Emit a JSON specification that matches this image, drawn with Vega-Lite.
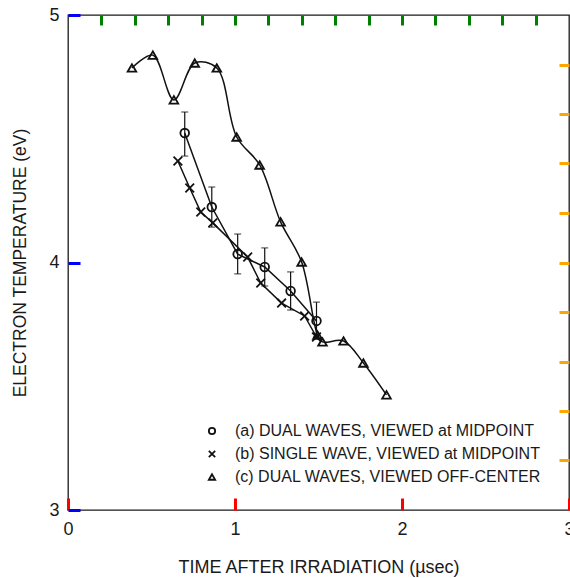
{
  "$schema": "https://vega.github.io/schema/vega-lite/v6.json",
  "width": 501,
  "height": 495,
  "autosize": {"type": "none"},
  "padding": {"left": 68, "top": 15, "right": 1, "bottom": 68},
  "background": "white",
  "config": {
    "font": "Liberation Sans",
    "view": {"stroke": "#1a1a1a", "strokeWidth": 1.3},
    "axis": {
      "grid": false,
      "domain": false,
      "labelColor": "#1a1a1a",
      "titleColor": "#1a1a1a",
      "labelFont": "Liberation Sans",
      "titleFont": "Liberation Sans",
      "labelFontSize": 18,
      "titleFontSize": 18,
      "titleFontWeight": "normal",
      "labelFlush": false,
      "labelOverlap": false,
      "format": "d"
    },
    "legend": {
      "labelFont": "Liberation Sans",
      "labelFontSize": 16,
      "labelColor": "#1a1a1a",
      "labelLimit": 400
    }
  },
  "datasets": {
    "temps": [
      {"series": "(a) DUAL WAVES, VIEWED at MIDPOINT", "time": 0.699, "temp": 4.523, "lo": 4.43, "hi": 4.608},
      {"series": "(a) DUAL WAVES, VIEWED at MIDPOINT", "time": 0.861, "temp": 4.224, "lo": 4.143, "hi": 4.305},
      {"series": "(a) DUAL WAVES, VIEWED at MIDPOINT", "time": 1.016, "temp": 4.034, "lo": 3.954, "hi": 4.115},
      {"series": "(a) DUAL WAVES, VIEWED at MIDPOINT", "time": 1.178, "temp": 3.982, "lo": 3.905, "hi": 4.059},
      {"series": "(a) DUAL WAVES, VIEWED at MIDPOINT", "time": 1.333, "temp": 3.885, "lo": 3.808, "hi": 3.962},
      {"series": "(a) DUAL WAVES, VIEWED at MIDPOINT", "time": 1.488, "temp": 3.764, "lo": 3.699, "hi": 3.84},
      {"series": "(b) SINGLE WAVE, VIEWED at MIDPOINT", "time": 0.658, "temp": 4.41},
      {"series": "(b) SINGLE WAVE, VIEWED at MIDPOINT", "time": 0.729, "temp": 4.301},
      {"series": "(b) SINGLE WAVE, VIEWED at MIDPOINT", "time": 0.795, "temp": 4.204},
      {"series": "(b) SINGLE WAVE, VIEWED at MIDPOINT", "time": 0.867, "temp": 4.16},
      {"series": "(b) SINGLE WAVE, VIEWED at MIDPOINT", "time": 1.076, "temp": 4.022},
      {"series": "(b) SINGLE WAVE, VIEWED at MIDPOINT", "time": 1.154, "temp": 3.917},
      {"series": "(b) SINGLE WAVE, VIEWED at MIDPOINT", "time": 1.279, "temp": 3.836},
      {"series": "(b) SINGLE WAVE, VIEWED at MIDPOINT", "time": 1.417, "temp": 3.784},
      {"series": "(b) SINGLE WAVE, VIEWED at MIDPOINT", "time": 1.488, "temp": 3.699},
      {"series": "(c) DUAL WAVES, VIEWED OFF-CENTER", "time": 0.383, "temp": 4.786},
      {"series": "(c) DUAL WAVES, VIEWED OFF-CENTER", "time": 0.508, "temp": 4.838},
      {"series": "(c) DUAL WAVES, VIEWED OFF-CENTER", "time": 0.634, "temp": 4.657},
      {"series": "(c) DUAL WAVES, VIEWED OFF-CENTER", "time": 0.759, "temp": 4.806},
      {"series": "(c) DUAL WAVES, VIEWED OFF-CENTER", "time": 0.891, "temp": 4.786},
      {"series": "(c) DUAL WAVES, VIEWED OFF-CENTER", "time": 1.01, "temp": 4.507},
      {"series": "(c) DUAL WAVES, VIEWED OFF-CENTER", "time": 1.148, "temp": 4.394},
      {"series": "(c) DUAL WAVES, VIEWED OFF-CENTER", "time": 1.273, "temp": 4.164},
      {"series": "(c) DUAL WAVES, VIEWED OFF-CENTER", "time": 1.399, "temp": 4.002},
      {"series": "(c) DUAL WAVES, VIEWED OFF-CENTER", "time": 1.494, "temp": 3.707},
      {"series": "(c) DUAL WAVES, VIEWED OFF-CENTER", "time": 1.524, "temp": 3.679},
      {"series": "(c) DUAL WAVES, VIEWED OFF-CENTER", "time": 1.65, "temp": 3.683},
      {"series": "(c) DUAL WAVES, VIEWED OFF-CENTER", "time": 1.769, "temp": 3.594},
      {"series": "(c) DUAL WAVES, VIEWED OFF-CENTER", "time": 1.907, "temp": 3.465}
    ]
  },
  "data": {"name": "temps"},
  "resolve": {"axis": {"x": "independent", "y": "independent"}},
  "layer": [
    {
      "transform": [{"filter": "datum.series !== '(c) DUAL WAVES, VIEWED OFF-CENTER'"}],
      "mark": {"type": "line", "color": "#111", "strokeWidth": 1.5, "interpolate": "linear"},
      "encoding": {
        "x": {
          "field": "time", "type": "quantitative",
          "scale": {"domain": [0, 3], "nice": false, "zero": false},
          "axis": {
            "orient": "bottom", "values": [0, 1, 2, 3], "ticks": true, "tickColor": "red", "tickWidth": 3,
            "tickSize": -12, "labelPadding": 22,
            "title": "TIME AFTER IRRADIATION (µsec)",
            "titleX": 250.5, "titleY": 57, "titleAlign": "center", "titleBaseline": "middle"
          }
        },
        "y": {
          "field": "temp", "type": "quantitative",
          "scale": {"domain": [3, 5], "nice": false, "zero": false},
          "axis": {
            "orient": "left", "values": [3, 4, 5], "ticks": true, "tickColor": "blue", "tickWidth": 3,
            "tickSize": -12, "labelPadding": 21,
            "title": "ELECTRON TEMPERATURE (eV)", "titleFontSize": 17.5,
            "titleX": -48, "titleY": 247.5, "titleAngle": -90, "titleAlign": "center", "titleBaseline": "middle"
          }
        },
        "detail": {"field": "series"}
      }
    },
    {
      "transform": [{"filter": "datum.series === '(c) DUAL WAVES, VIEWED OFF-CENTER'"}],
      "mark": {"type": "line", "color": "#111", "strokeWidth": 1.5, "interpolate": "catmull-rom"},
      "encoding": {
        "x": {
          "field": "time", "type": "quantitative",
          "scale": {"domain": [0, 3], "nice": false, "zero": false},
          "axis": {
            "orient": "top", "labels": false, "title": null, "ticks": true, "tickColor": "green", "tickWidth": 3,
            "tickSize": -10,
            "values": [0.2, 0.4, 0.6, 0.8, 1, 1.2, 1.4, 1.6, 1.8, 2, 2.2, 2.4, 2.6, 2.8]
          }
        },
        "y": {
          "field": "temp", "type": "quantitative",
          "scale": {"domain": [3, 5], "nice": false, "zero": false},
          "axis": {
            "orient": "right", "labels": false, "title": null, "ticks": true, "tickColor": "orange", "tickWidth": 3,
            "tickSize": -10,
            "values": [3.2, 3.4, 3.6, 3.8, 4, 4.2, 4.4, 4.6, 4.8]
          }
        }
      }
    },
    {
      "transform": [{"filter": "isValid(datum.lo)"}],
      "mark": {"type": "rule", "color": "#111", "strokeWidth": 1.2},
      "encoding": {
        "x": {"field": "time", "type": "quantitative", "scale": {"domain": [0, 3], "nice": false, "zero": false}, "axis": null},
        "y": {"field": "hi", "type": "quantitative", "scale": {"domain": [3, 5], "nice": false, "zero": false}, "axis": null},
        "y2": {"field": "lo"}
      }
    },
    {
      "transform": [{"filter": "isValid(datum.lo)"}],
      "mark": {"type": "tick", "orient": "horizontal", "color": "#111", "size": 7, "thickness": 1.2},
      "encoding": {
        "x": {"field": "time", "type": "quantitative", "scale": {"domain": [0, 3], "nice": false, "zero": false}, "axis": null},
        "y": {"field": "lo", "type": "quantitative", "scale": {"domain": [3, 5], "nice": false, "zero": false}, "axis": null}
      }
    },
    {
      "transform": [{"filter": "isValid(datum.hi)"}],
      "mark": {"type": "tick", "orient": "horizontal", "color": "#111", "size": 7, "thickness": 1.2},
      "encoding": {
        "x": {"field": "time", "type": "quantitative", "scale": {"domain": [0, 3], "nice": false, "zero": false}, "axis": null},
        "y": {"field": "hi", "type": "quantitative", "scale": {"domain": [3, 5], "nice": false, "zero": false}, "axis": null}
      }
    },
    {
      "mark": {"type": "point", "filled": false, "color": "#111", "strokeWidth": 1.8, "size": 75, "opacity": 1},
      "encoding": {
        "x": {"field": "time", "type": "quantitative", "scale": {"domain": [0, 3], "nice": false, "zero": false}, "axis": null},
        "y": {"field": "temp", "type": "quantitative", "scale": {"domain": [3, 5], "nice": false, "zero": false}, "axis": null},
        "shape": {
          "field": "series", "type": "nominal",
          "scale": {
            "domain": ["(a) DUAL WAVES, VIEWED at MIDPOINT", "(b) SINGLE WAVE, VIEWED at MIDPOINT", "(c) DUAL WAVES, VIEWED OFF-CENTER"],
            "range": ["circle", "M-1,-1L1,1M-1,1L1,-1", "triangle-up"]
          },
          "legend": {
            "title": null,
            "orient": "none",
            "legendX": 136,
            "legendY": 408,
            "padding": 0,
            "symbolSize": 40,
            "symbolStrokeWidth": 1.8,
            "symbolStrokeColor": "#111",
            "symbolFillColor": "transparent",
            "labelOffset": 15,
            "rowPadding": 7
          }
        }
      }
    }
  ]
}
